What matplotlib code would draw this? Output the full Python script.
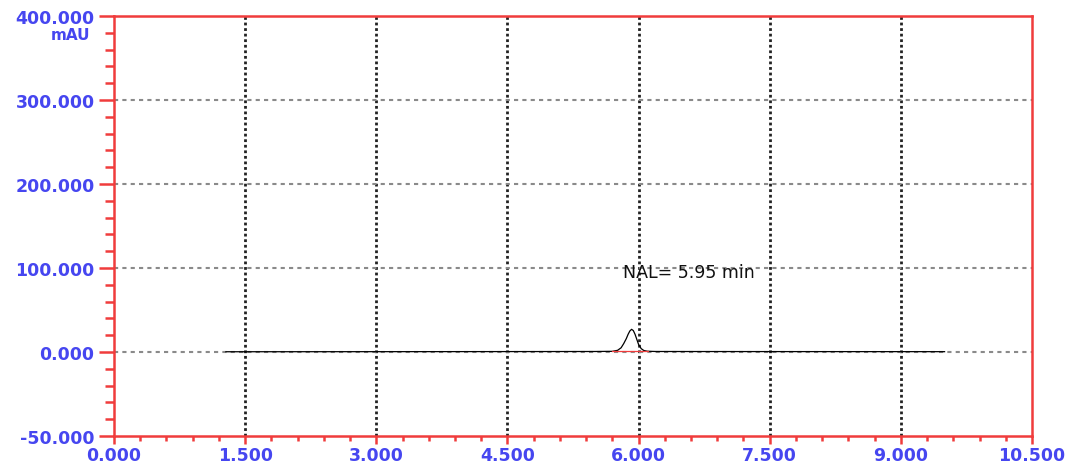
import matplotlib
matplotlib.use("Agg")
import matplotlib.pyplot as plt
from matplotlib.ticker import MultipleLocator

# Chromatogram trace (time in min, absorbance in mAU)
time_min = [1.28, 3.00, 4.50, 5.50, 5.70, 5.76, 5.80, 5.83, 5.86, 5.88, 5.90, 5.92,
            5.94, 5.96, 5.98, 6.00, 6.03, 6.06, 6.10, 6.20, 7.50, 9.50]
signal_mau = [0.3, 0.4, 0.5, 0.6, 0.8, 2.0, 5.0, 10.0, 16.0, 21.0, 25.0, 27.0,
              25.5, 21.0, 15.0, 9.0, 4.0, 1.8, 0.9, 0.6, 0.5, 0.4]
# Integration baseline under the peak
base_time = [5.70, 6.11]
base_mau = [0.6, 0.6]

peak_label = "NAL= 5.95 min"
peak_label_pos = (5.82, 95)

x_ticks = [0.0, 1.5, 3.0, 4.5, 6.0, 7.5, 9.0, 10.5]
x_labels = ["0.000", "1.500", "3.000", "4.500", "6.000", "7.500", "9.000", "10.500"]
y_ticks = [-100, 0, 100, 200, 300, 400]
y_labels = ["-50.000", "0.000", "100.000", "200.000", "300.000", "400.000"]
y_unit = "mAU"

red = "#f03c3c"
blue = "#4646f0"

fig = plt.figure(figsize=(10.7, 4.64), dpi=100)
ax = fig.add_axes([114 / 1070, 27 / 464, (1032 - 114) / 1070, (437 - 17) / 464])
ax.set_xlim(0, 10.5)
ax.set_ylim(-100, 400)

# grid lines
for xv in x_ticks[1:-1]:
    ax.axvline(xv, color="#222222", lw=2.0, ls=(0, (1, 1)), zorder=1)
for yv in y_ticks[1:-1]:
    ax.axhline(yv, color="#8a8a8a", lw=1.5, ls=(0, (2, 2)), zorder=1)

ax.plot(time_min, signal_mau, color="black", lw=0.9, zorder=3)
ax.plot(base_time, base_mau, color=red, lw=0.9, zorder=4)
ax.text(peak_label_pos[0], peak_label_pos[1], peak_label, fontsize=12.5,
        color="#111111", va="center", ha="left", zorder=5)

for s in ax.spines.values():
    s.set_color(red)
    s.set_linewidth(1.8)

ax.set_xticks(x_ticks)
ax.set_xticklabels(x_labels)
ax.set_yticks(y_ticks)
ax.set_yticklabels(y_labels)
ax.xaxis.set_minor_locator(MultipleLocator(0.3))
ax.yaxis.set_minor_locator(MultipleLocator(20))

ax.tick_params(axis="x", which="major", direction="out", length=6, width=1.8,
               color=red, pad=1.5, labelsize=12.5, labelcolor=blue)
ax.tick_params(axis="x", which="minor", direction="out", length=3.5, width=1.8,
               color=red)
ax.tick_params(axis="y", which="major", direction="out", length=11, width=1.8,
               color=red, pad=3, labelsize=12.5, labelcolor=blue)
ax.tick_params(axis="y", which="minor", direction="out", length=6.5, width=1.8,
               color=red)
for lab in ax.get_xticklabels() + ax.get_yticklabels():
    lab.set_fontweight("bold")

fig.text(90 / 1070, 1 - 36 / 464, y_unit, color=blue, fontsize=11,
         fontweight="bold", ha="right", va="center")

fig.savefig("out.png", dpi=100, facecolor="white")
